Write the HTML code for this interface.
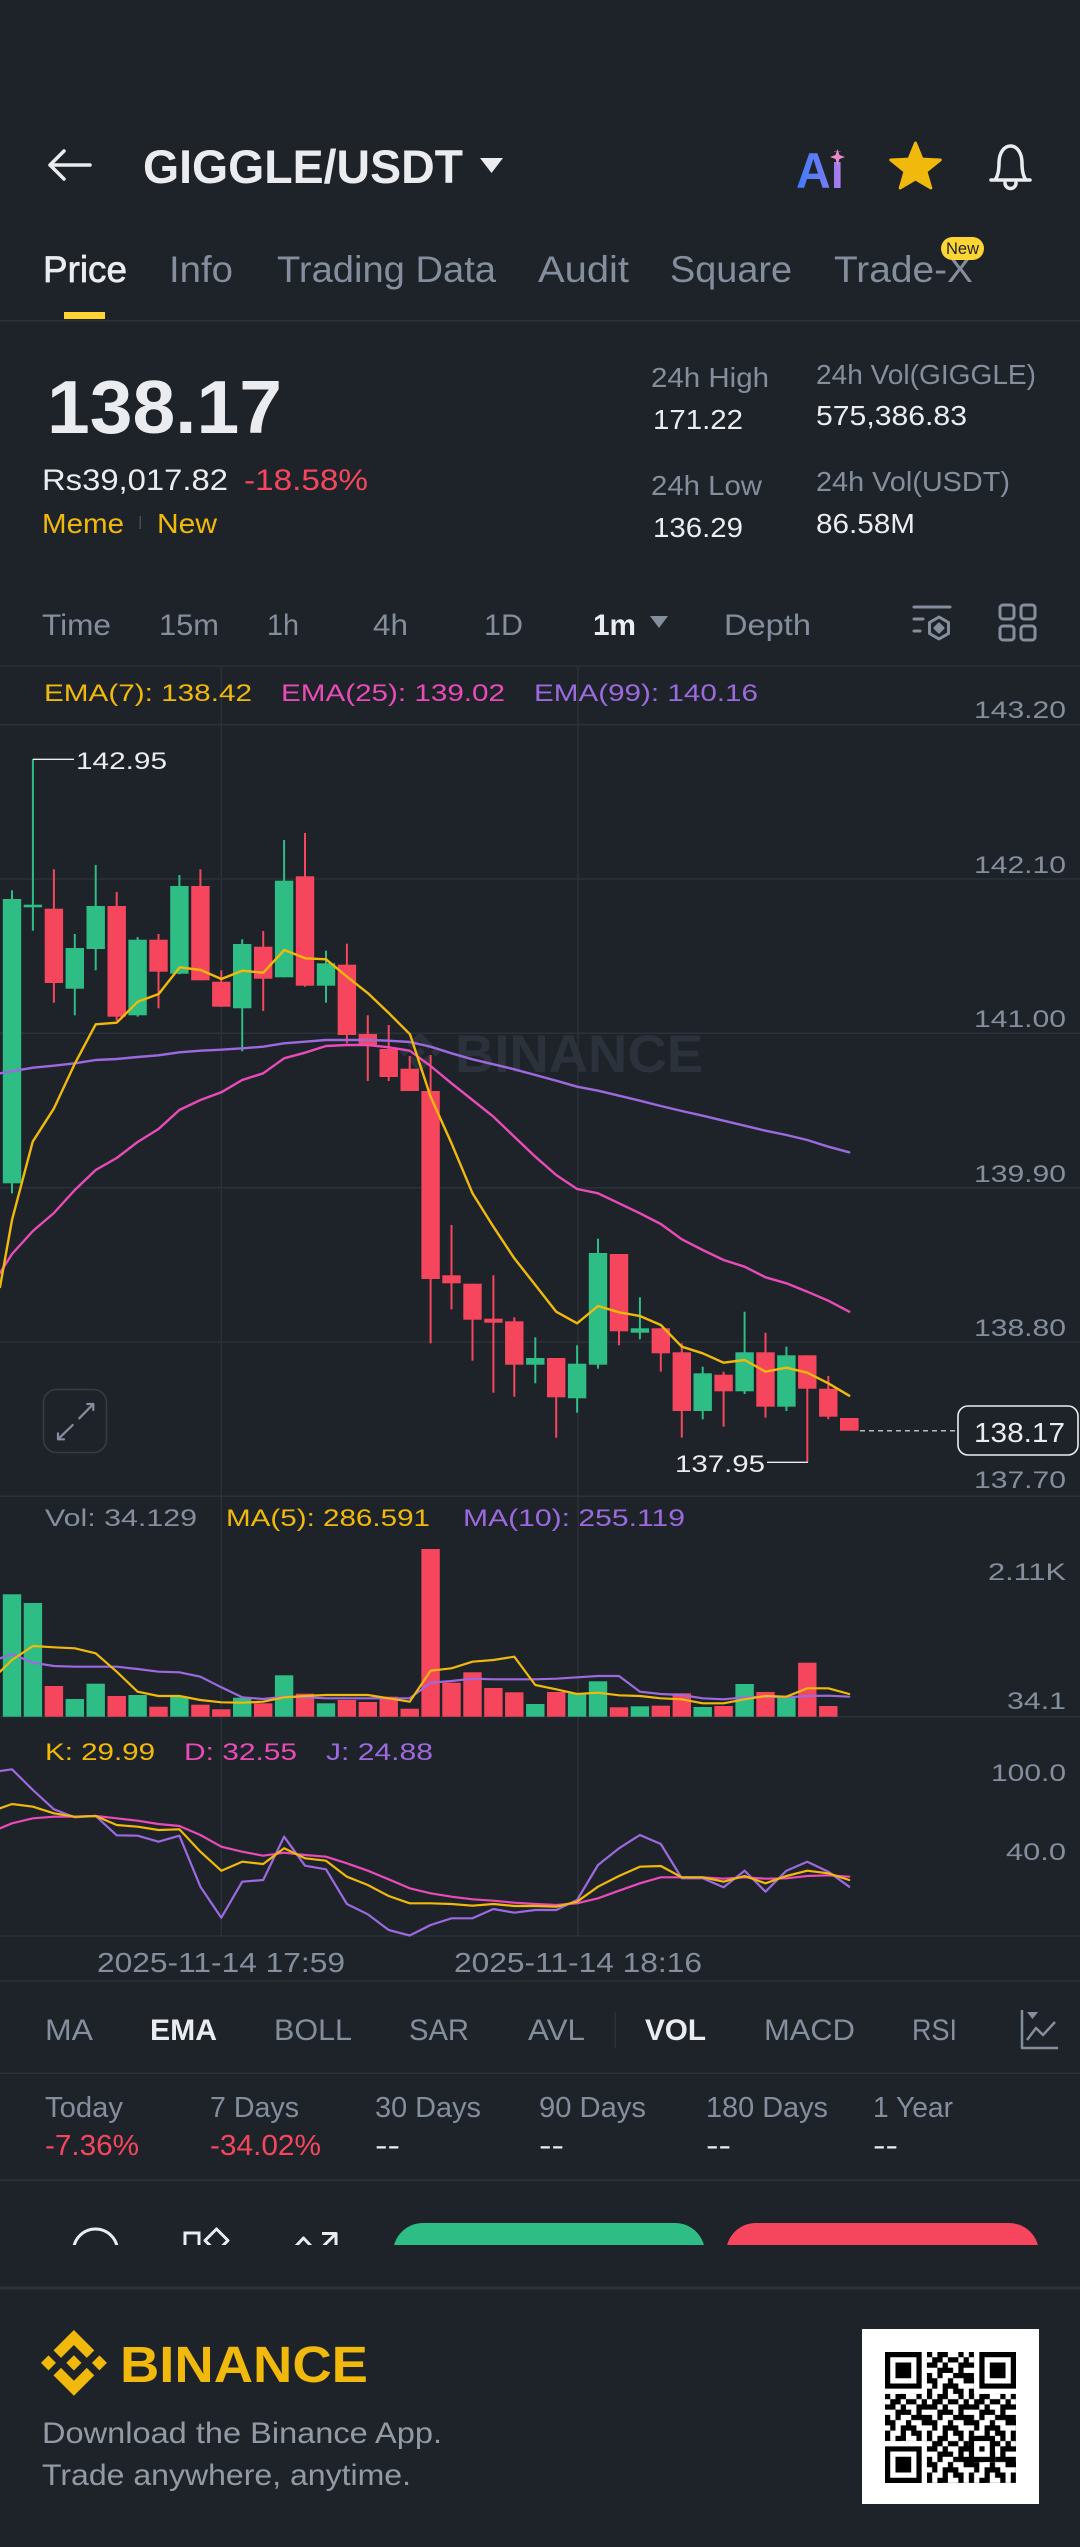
<!DOCTYPE html>
<html><head><meta charset="utf-8"><title>GIGGLE/USDT</title>
<style>
html,body{margin:0;padding:0;background:#1E2329;}
svg{display:block;}
.g{fill:#848E9C}.w{fill:#EAECEF}.r{fill:#F6465D}.y{fill:#F0B90B}.pk{fill:#E94BB8}.pu{fill:#9C6ADE}
</style></head>
<body>
<svg xmlns="http://www.w3.org/2000/svg" width="1080" height="2547" viewBox="0 0 1080 2547" font-family="'Liberation Sans', Arial, sans-serif">
<defs>
<linearGradient id="aig" x1="0" y1="0" x2="1" y2="0">
<stop offset="0" stop-color="#3F7BFA"/><stop offset="0.6" stop-color="#6E7CF5"/><stop offset="1" stop-color="#C07DEB"/>
</linearGradient>
<clipPath id="actclip"><rect x="0" y="2180" width="1080" height="65"/></clipPath>
<pattern id="qrp" width="8" height="8" patternUnits="userSpaceOnUse">
<path fill="#000" d="M0 0h1v1h-1z M2 0h2v1h-2z M6 0h1v1h-1z M1 1h2v1h-2z M4 1h2v1h-2z M7 1h1v1h-1z M0 2h2v1h-2z M3 2h1v1h-1z M6 2h2v1h-2z M2 3h3v1h-3z M6 3h1v1h-1z M0 4h1v1h-1z M2 4h1v1h-1z M5 4h3v1h-3z M0 5h2v1h-2z M4 5h1v1h-1z M7 5h1v1h-1z M1 6h1v1h-1z M3 6h3v1h-3z M0 7h1v1h-1z M3 7h1v1h-1z M5 7h2v1h-2z"/>
</pattern>
<path id="bnlogo" d="M38.171 53.203L62.759 28.616l24.601 24.601 14.307-14.307L62.759 0 23.864 38.896z M0 62.759l14.307-14.307 14.307 14.307-14.307 14.307z M38.171 72.315l24.588 24.587 24.6-24.6 14.315 14.299-.007.008-38.908 38.908-38.895-38.895-.02-.02z M97.21 62.766l14.307-14.307 14.306 14.307-14.306 14.307z M77.271 62.759h.006L62.759 48.241 52.03 58.97l-1.233 1.234-2.541 2.541-.02.02.02.021 14.503 14.503 14.518-14.518.007-.008-.013-.004z"/>
</defs>

<rect x="0" y="0" width="1080" height="2547" fill="#1E2329"/>

<!-- ===== Header ===== -->
<path d="M50 165H90 M64 151L50 165L64 179" stroke="#EAECEF" stroke-width="3.5" fill="none" stroke-linecap="round" stroke-linejoin="round"/>
<text x="143" y="183" font-size="47" font-weight="bold" class="w" textLength="320" lengthAdjust="spacingAndGlyphs">GIGGLE/USDT</text>
<path d="M480 158H503L491.5 173Z" fill="#EAECEF"/>
<text x="796" y="188" font-size="50" font-weight="bold" fill="url(#aig)" textLength="48" lengthAdjust="spacingAndGlyphs">Ai</text>
<rect x="833" y="152" width="10" height="10" fill="#1E2329"/>
<path d="M837.5 149 L839.5 155 L845 157 L839.5 159 L837.5 165 L835.5 159 L830 157 L835.5 155 Z" fill="#E98BC6"/>
<polygon points="915.5,143 921.97,159.1 940.2,160 925.96,171.4 930.8,188 915.5,179 900.2,188 905,171.4 890.8,160 909,159.1" fill="#F0B90B" stroke="#F0B90B" stroke-width="3" stroke-linejoin="round"/>
<path d="M995 180 C998 176 999 170 999 163 C999 153 1004 146 1010.5 146 C1017 146 1022 153 1022 163 C1022 170 1023 176 1026 180 Z M991 180 H1030 M1005 183 A5.5 5.5 0 0 0 1016 183" stroke="#EAECEF" stroke-width="3.5" fill="none" stroke-linecap="round" stroke-linejoin="round"/>

<!-- Tabs -->
<text x="43" y="282" font-size="37" class="w" stroke="#EAECEF" stroke-width="0.7" textLength="84" lengthAdjust="spacingAndGlyphs">Price</text>
<text x="169" y="282" font-size="37" class="g" textLength="64" lengthAdjust="spacingAndGlyphs">Info</text>
<text x="277" y="282" font-size="37" class="g" textLength="219" lengthAdjust="spacingAndGlyphs">Trading Data</text>
<text x="538" y="282" font-size="37" class="g" textLength="91" lengthAdjust="spacingAndGlyphs">Audit</text>
<text x="670" y="282" font-size="37" class="g" textLength="122" lengthAdjust="spacingAndGlyphs">Square</text>
<text x="834" y="282" font-size="37" class="g" textLength="139" lengthAdjust="spacingAndGlyphs">Trade-X</text>
<rect x="941" y="237" width="43" height="23" rx="11.5" fill="#FCD535"/>
<text x="962.5" y="254" font-size="17" fill="#1E2329" text-anchor="middle" textLength="33" lengthAdjust="spacingAndGlyphs">New</text>
<rect x="64" y="312" width="41" height="7" fill="#FCD535"/>
<rect x="0" y="320" width="1080" height="1.5" fill="#2B3139"/>

<!-- Price block -->
<text x="47" y="433" font-size="75" font-weight="bold" class="w" textLength="235" lengthAdjust="spacingAndGlyphs">138.17</text>
<text x="42" y="490" font-size="30" class="w" textLength="186" lengthAdjust="spacingAndGlyphs">Rs39,017.82</text>
<text x="244" y="490" font-size="30" class="r" textLength="124" lengthAdjust="spacingAndGlyphs">-18.58%</text>
<text x="42" y="533" font-size="27.5" class="y" textLength="82" lengthAdjust="spacingAndGlyphs">Meme</text>
<rect x="139.5" y="516" width="1.5" height="13" fill="#474D57"/>
<text x="157" y="533" font-size="27.5" class="y" textLength="60" lengthAdjust="spacingAndGlyphs">New</text>

<text x="651" y="387" font-size="27.5" class="g" textLength="118" lengthAdjust="spacingAndGlyphs">24h High</text>
<text x="653" y="429" font-size="27.5" class="w" textLength="90" lengthAdjust="spacingAndGlyphs">171.22</text>
<text x="651" y="495" font-size="27.5" class="g" textLength="111" lengthAdjust="spacingAndGlyphs">24h Low</text>
<text x="653" y="537" font-size="27.5" class="w" textLength="90" lengthAdjust="spacingAndGlyphs">136.29</text>
<text x="816" y="384" font-size="27.5" class="g" textLength="220" lengthAdjust="spacingAndGlyphs">24h Vol(GIGGLE)</text>
<text x="816" y="425" font-size="27.5" class="w" textLength="151" lengthAdjust="spacingAndGlyphs">575,386.83</text>
<text x="816" y="491" font-size="27.5" class="g" textLength="194" lengthAdjust="spacingAndGlyphs">24h Vol(USDT)</text>
<text x="816" y="533" font-size="27.5" class="w" textLength="99" lengthAdjust="spacingAndGlyphs">86.58M</text>

<!-- Interval row -->
<text x="42" y="635" font-size="30" class="g" textLength="69" lengthAdjust="spacingAndGlyphs">Time</text>
<text x="159" y="635" font-size="30" class="g" textLength="60" lengthAdjust="spacingAndGlyphs">15m</text>
<text x="267" y="635" font-size="30" class="g" textLength="32" lengthAdjust="spacingAndGlyphs">1h</text>
<text x="373" y="635" font-size="30" class="g" textLength="35" lengthAdjust="spacingAndGlyphs">4h</text>
<text x="484" y="635" font-size="30" class="g" textLength="39" lengthAdjust="spacingAndGlyphs">1D</text>
<text x="593" y="635" font-size="30" font-weight="bold" class="w" textLength="43" lengthAdjust="spacingAndGlyphs">1m</text>
<path d="M650 616H668L659 628Z" fill="#848E9C"/>
<text x="724" y="635" font-size="30" class="g" textLength="87" lengthAdjust="spacingAndGlyphs">Depth</text>
<g stroke="#848E9C" stroke-width="3" fill="none" stroke-linecap="round" stroke-linejoin="round">
<path d="M914 607H950 M914 619H923 M914 631H920"/>
<polygon points="939,617 948.5,622.5 948.5,633.5 939,639 929.5,633.5 929.5,622.5"/>
<path d="M939 624 L943 628 L939 632 L935 628 Z" fill="#848E9C"/>
<rect x="1000" y="605" width="14" height="14" rx="3"/>
<rect x="1021" y="605" width="14" height="14" rx="3"/>
<rect x="1000" y="626" width="14" height="14" rx="3"/>
<rect x="1021" y="626" width="14" height="14" rx="3"/>
</g>

<!-- ===== Chart grid ===== -->
<g stroke="#2B3139" stroke-width="1.5">
<line x1="0" y1="666" x2="1080" y2="666"/>
<line x1="0" y1="724.7" x2="1080" y2="724.7"/>
<line x1="0" y1="879" x2="1080" y2="879"/>
<line x1="0" y1="1033.3" x2="1080" y2="1033.3"/>
<line x1="0" y1="1187.7" x2="1080" y2="1187.7"/>
<line x1="0" y1="1342" x2="1080" y2="1342"/>
<line x1="0" y1="1496.3" x2="1080" y2="1496.3"/>
<line x1="0" y1="1716.7" x2="1080" y2="1716.7"/>
<line x1="0" y1="1936" x2="1080" y2="1936"/>
<line x1="0" y1="1981" x2="1080" y2="1981"/>
<line x1="221.3" y1="666" x2="221.3" y2="1936"/>
<line x1="578" y1="666" x2="578" y2="1936"/>
</g>

<!-- watermark -->
<use href="#bnlogo" transform="translate(400 1032) scale(0.32)" fill="#2C323B"/>
<text x="455" y="1072" font-size="53" font-weight="bold" fill="#2C323B" textLength="248" lengthAdjust="spacingAndGlyphs">BINANCE</text>

<!-- EMA labels -->
<text x="44" y="701" font-size="24.5" class="y" textLength="208" lengthAdjust="spacingAndGlyphs">EMA(7): 138.42</text>
<text x="281" y="701" font-size="24.5" class="pk" textLength="224" lengthAdjust="spacingAndGlyphs">EMA(25): 139.02</text>
<text x="534" y="701" font-size="24.5" class="pu" textLength="224" lengthAdjust="spacingAndGlyphs">EMA(99): 140.16</text>

<!-- price axis -->
<g font-size="24.5" class="g" text-anchor="end">
<text x="1066" y="718" textLength="92" lengthAdjust="spacingAndGlyphs">143.20</text>
<text x="1066" y="873" textLength="92" lengthAdjust="spacingAndGlyphs">142.10</text>
<text x="1066" y="1027" textLength="92" lengthAdjust="spacingAndGlyphs">141.00</text>
<text x="1066" y="1182" textLength="92" lengthAdjust="spacingAndGlyphs">139.90</text>
<text x="1066" y="1336" textLength="92" lengthAdjust="spacingAndGlyphs">138.80</text>
<text x="1066" y="1488" textLength="92" lengthAdjust="spacingAndGlyphs">137.70</text>
</g>

<!-- Candles green -->
<g fill="#2EBD85">
<rect x="11" y="890.3" width="2" height="303"/><rect x="2.8" y="899" width="18.4" height="284.3"/>
<rect x="31.9" y="759" width="2" height="171.7"/><rect x="23.7" y="904.7" width="18.4" height="2.6"/>
<rect x="73.8" y="934" width="2" height="81.3"/><rect x="65.6" y="948" width="18.4" height="40.7"/>
<rect x="94.7" y="865" width="2" height="105.3"/><rect x="86.5" y="906" width="18.4" height="43"/>
<rect x="136.6" y="937" width="2" height="79.7"/><rect x="128.4" y="939.7" width="18.4" height="75.6"/>
<rect x="178.4" y="875" width="2" height="99.3"/><rect x="170.2" y="886" width="18.4" height="87.7"/>
<rect x="241.2" y="939.3" width="2" height="112"/><rect x="233" y="944" width="18.4" height="64.3"/>
<rect x="283.1" y="840" width="2" height="137.3"/><rect x="274.9" y="880.7" width="18.4" height="96.6"/>
<rect x="325" y="950.7" width="2" height="52"/><rect x="316.8" y="963.3" width="18.4" height="22.4"/>
<rect x="534.3" y="1337.3" width="2" height="46"/><rect x="526.1" y="1358" width="18.4" height="6.7"/>
<rect x="576.1" y="1345.3" width="2" height="67.4"/><rect x="567.9" y="1363.7" width="18.4" height="34.6"/>
<rect x="597" y="1238.7" width="2" height="130"/><rect x="588.8" y="1253" width="18.4" height="111.7"/>
<rect x="638.9" y="1297.3" width="2" height="42"/><rect x="630.7" y="1328.3" width="18.4" height="4.4"/>
<rect x="701.7" y="1366.7" width="2" height="52.6"/><rect x="693.5" y="1373.3" width="18.4" height="37.7"/>
<rect x="743.6" y="1311.7" width="2" height="82.3"/><rect x="735.4" y="1352.3" width="18.4" height="39"/>
<rect x="785.4" y="1346.7" width="2" height="64.3"/><rect x="777.2" y="1355.3" width="18.4" height="51.4"/>
</g>
<!-- Candles red -->
<g fill="#F6465D">
<rect x="52.9" y="869.3" width="2" height="133.4"/><rect x="44.7" y="908.7" width="18.4" height="74.3"/>
<rect x="115.7" y="892" width="2" height="128.7"/><rect x="107.5" y="906" width="18.4" height="110.7"/>
<rect x="157.5" y="934" width="2" height="74.3"/><rect x="149.3" y="939.7" width="18.4" height="32"/>
<rect x="199.4" y="869.3" width="2" height="111"/><rect x="191.2" y="886" width="18.4" height="94.3"/>
<rect x="220.3" y="970.3" width="2" height="36.4"/><rect x="212.1" y="981.7" width="18.4" height="25"/>
<rect x="262.2" y="931" width="2" height="80"/><rect x="254" y="946.7" width="18.4" height="32"/>
<rect x="304" y="833" width="2" height="153.7"/><rect x="295.8" y="876.3" width="18.4" height="109.4"/>
<rect x="345.9" y="943.7" width="2" height="99.6"/><rect x="337.7" y="964.7" width="18.4" height="70.3"/>
<rect x="366.8" y="1015.3" width="2" height="65.7"/><rect x="358.6" y="1034" width="18.4" height="11"/>
<rect x="387.7" y="1025" width="2" height="56"/><rect x="379.5" y="1049" width="18.4" height="28"/>
<rect x="408.7" y="1056" width="2" height="35"/><rect x="400.5" y="1068.7" width="18.4" height="22.3"/>
<rect x="429.6" y="1055" width="2" height="288.3"/><rect x="421.4" y="1091" width="18.4" height="188"/>
<rect x="450.5" y="1225" width="2" height="84.3"/><rect x="442.3" y="1275.3" width="18.4" height="8"/>
<rect x="471.5" y="1283.7" width="2" height="77"/><rect x="463.3" y="1283.7" width="18.4" height="36"/>
<rect x="492.4" y="1275.3" width="2" height="117.4"/><rect x="484.2" y="1318.7" width="18.4" height="4"/>
<rect x="513.3" y="1317.3" width="2" height="79.4"/><rect x="505.1" y="1321.3" width="18.4" height="43.4"/>
<rect x="555.2" y="1358" width="2" height="79.7"/><rect x="547" y="1358" width="18.4" height="39.3"/>
<rect x="618" y="1254" width="2" height="91.3"/><rect x="609.8" y="1254" width="18.4" height="77.3"/>
<rect x="659.8" y="1328.3" width="2" height="43.4"/><rect x="651.6" y="1328.3" width="18.4" height="25"/>
<rect x="680.8" y="1343.3" width="2" height="94.4"/><rect x="672.6" y="1352.3" width="18.4" height="58.7"/>
<rect x="722.6" y="1371.7" width="2" height="55"/><rect x="714.4" y="1374.7" width="18.4" height="16.6"/>
<rect x="764.5" y="1332.7" width="2" height="85"/><rect x="756.3" y="1352.3" width="18.4" height="54.4"/>
<rect x="806.3" y="1355.3" width="2" height="107"/><rect x="798.1" y="1355.3" width="18.4" height="33.4"/>
<rect x="827.3" y="1376" width="2" height="43.3"/><rect x="819.1" y="1388.7" width="18.4" height="28"/>
<rect x="840" y="1418" width="18.6" height="12.7"/>
</g>

<!-- EMA lines -->
<g fill="none" stroke-width="2.4" stroke-linejoin="round" stroke-linecap="round">
<polyline stroke="#9C6ADE" points="0,1073.3 32.9,1067.7 53.9,1065.7 74.8,1063.3 95.7,1060 116.7,1059 137.6,1057 158.5,1055.3 179.4,1052.3 200.4,1050.7 221.3,1049.7 242.2,1048.3 263.2,1046.7 284.1,1043.3 305,1041.7 326,1040 346.9,1040 367.8,1040 388.7,1040.7 409.7,1042 430.6,1046.7 451.5,1053.3 472.5,1059.3 493.4,1064.3 514.3,1069.3 535.3,1075 556.2,1080.7 577.1,1086.7 598,1090.7 619,1095.7 639.9,1100.7 660.8,1106 681.8,1111 702.7,1115.7 723.6,1120.7 744.6,1125.7 765.5,1130.7 786.4,1135 807.3,1140 828.3,1146.7 849.2,1152.3"/>
<polyline stroke="#E94BB8" points="0,1273 12,1254 32.9,1231 53.9,1213 74.8,1190 95.7,1170 116.7,1158 137.6,1142 158.5,1129 179.4,1110 200.4,1100 221.3,1092.3 242.2,1080 263.2,1073.3 284.1,1058.3 305,1052.7 326,1046 346.9,1045 367.8,1045 388.7,1047.3 409.7,1050.7 430.6,1066 451.5,1083.3 472.5,1100 493.4,1116.7 514.3,1136.7 535.3,1156.7 556.2,1175 577.1,1189 598,1193.3 619,1203.3 639.9,1213.3 660.8,1224 681.8,1239.3 702.7,1250 723.6,1260 744.6,1266.7 765.5,1277.3 786.4,1283.3 807.3,1291.7 828.3,1300.7 849.2,1311.7"/>
<polyline stroke="#F0B90B" points="0,1287 12,1220 32.7,1141.7 54,1108.3 75,1063.3 95.7,1024.3 116.7,1022.7 137.7,1001.7 158.7,994 179.7,967.3 200.7,970 221.3,979 242.3,970.7 263.3,972.7 284.3,950 305.3,958.3 326,959.3 347,976.7 368,993.3 389,1013.3 410,1034.3 430.6,1096.7 451.5,1143.3 472.5,1193.3 493.4,1226.7 514.3,1258.3 535.3,1285 556.2,1311.7 577.1,1323.3 598,1306 619,1312.3 639.9,1316 660.8,1325 681.8,1346.7 702.7,1353.3 723.6,1362.7 744.6,1360 765.5,1371.7 786.4,1367.7 807.3,1372.7 828.3,1383.3 849.2,1395.7"/>
</g>

<!-- high / low markers -->
<line x1="33" y1="759.3" x2="74" y2="759.3" stroke="#EAECEF" stroke-width="1.3"/>
<text x="76" y="769" font-size="24.5" class="w" textLength="91" lengthAdjust="spacingAndGlyphs">142.95</text>
<line x1="767" y1="1462.3" x2="808" y2="1462.3" stroke="#EAECEF" stroke-width="1.3"/>
<text x="675" y="1472" font-size="24.5" class="w" textLength="90" lengthAdjust="spacingAndGlyphs">137.95</text>

<!-- current price -->
<line x1="860" y1="1430.7" x2="955" y2="1430.7" stroke="#B7BDC6" stroke-width="1.5" stroke-dasharray="5 4"/>
<rect x="958" y="1406" width="120" height="49" rx="10" fill="#1E2329" stroke="#EAECEF" stroke-width="1.6"/>
<text x="974" y="1442" font-size="28" class="w" textLength="91" lengthAdjust="spacingAndGlyphs">138.17</text>

<!-- expand icon -->
<rect x="43.5" y="1389.5" width="63" height="63" rx="13" fill="none" stroke="#363C45" stroke-width="1.6"/>
<path d="M79.3 1418.3 L93.3 1404 M87.3 1404 H93.3 V1410 M72.7 1425 L58 1439.3 M58 1433.3 V1439.3 H64" stroke="#848E9C" stroke-width="2.2" fill="none" stroke-linecap="round" stroke-linejoin="round"/>

<!-- ===== Volume ===== -->
<text x="45" y="1526" font-size="24.5" class="g" textLength="152" lengthAdjust="spacingAndGlyphs">Vol: 34.129</text>
<text x="226" y="1526" font-size="24.5" class="y" textLength="204" lengthAdjust="spacingAndGlyphs">MA(5): 286.591</text>
<text x="463" y="1526" font-size="24.5" class="pu" textLength="222" lengthAdjust="spacingAndGlyphs">MA(10): 255.119</text>
<text x="1066" y="1580" font-size="24.5" class="g" text-anchor="end" textLength="78" lengthAdjust="spacingAndGlyphs">2.11K</text>
<text x="1066" y="1709" font-size="24.5" class="g" text-anchor="end" textLength="59" lengthAdjust="spacingAndGlyphs">34.1</text>

<g fill="#2EBD85">
<rect x="2.8" y="1594.3" width="18.4" height="122.4"/>
<rect x="23.7" y="1603" width="18.4" height="113.7"/>
<rect x="65.6" y="1699" width="18.4" height="17.7"/>
<rect x="86.5" y="1683.7" width="18.4" height="33"/>
<rect x="128.4" y="1695" width="18.4" height="21.7"/>
<rect x="170.2" y="1697" width="18.4" height="19.7"/>
<rect x="233" y="1697.7" width="18.4" height="19"/>
<rect x="274.9" y="1675.3" width="18.4" height="41.4"/>
<rect x="316.8" y="1703.3" width="18.4" height="13.4"/>
<rect x="526.1" y="1704" width="18.4" height="12.7"/>
<rect x="567.9" y="1693.3" width="18.4" height="23.4"/>
<rect x="588.8" y="1681.3" width="18.4" height="35.4"/>
<rect x="630.7" y="1706.3" width="18.4" height="10.4"/>
<rect x="693.5" y="1707" width="18.4" height="9.7"/>
<rect x="735.4" y="1684" width="18.4" height="32.7"/>
<rect x="777.2" y="1697" width="18.4" height="19.7"/>
</g>
<g fill="#F6465D">
<rect x="44.7" y="1686" width="18.4" height="30.7"/>
<rect x="107.5" y="1696" width="18.4" height="20.7"/>
<rect x="149.3" y="1706.7" width="18.4" height="10"/>
<rect x="191.2" y="1704.7" width="18.4" height="12"/>
<rect x="212.1" y="1709.3" width="18.4" height="7.4"/>
<rect x="254" y="1703.3" width="18.4" height="13.4"/>
<rect x="295.8" y="1693.7" width="18.4" height="23"/>
<rect x="337.7" y="1700" width="18.4" height="16.7"/>
<rect x="358.6" y="1702" width="18.4" height="14.7"/>
<rect x="379.5" y="1696.7" width="18.4" height="20"/>
<rect x="400.5" y="1708.7" width="18.4" height="8"/>
<rect x="421.4" y="1549" width="18.4" height="167.7"/>
<rect x="442.3" y="1682.7" width="18.4" height="34"/>
<rect x="463.3" y="1672.3" width="18.4" height="44.4"/>
<rect x="484.2" y="1688" width="18.4" height="28.7"/>
<rect x="505.1" y="1692.3" width="18.4" height="24.4"/>
<rect x="547" y="1692" width="18.4" height="24.7"/>
<rect x="609.8" y="1707.3" width="18.4" height="9.4"/>
<rect x="651.6" y="1705.7" width="18.4" height="11"/>
<rect x="672.6" y="1693.3" width="18.4" height="23.4"/>
<rect x="714.4" y="1706" width="18.4" height="10.7"/>
<rect x="756.3" y="1692" width="18.4" height="24.7"/>
<rect x="798.1" y="1662.7" width="18.4" height="54"/>
<rect x="819.1" y="1706" width="18.4" height="10.7"/>
</g>
<g fill="none" stroke-width="2.2" stroke-linejoin="round" stroke-linecap="round">
<polyline stroke="#9C6ADE" points="0,1658.3 12,1654 32.9,1662.7 53.9,1666 74.8,1666.7 95.7,1666.7 116.7,1666.7 137.6,1669 158.5,1671.7 179.4,1672.3 200.4,1676.7 221.3,1687.3 242.2,1697.3 263.2,1699 284.1,1696.7 305,1697.3 326,1698.3 346.9,1698.3 367.8,1698.3 388.7,1698.3 409.7,1698.3 430.6,1682.7 451.5,1681 472.5,1678.7 493.4,1679.3 514.3,1679.3 535.3,1679.3 556.2,1678.7 577.1,1677.3 598,1676 619,1676 639.9,1691.7 660.8,1694 681.8,1695 702.7,1698.3 723.6,1699.3 744.6,1697.3 765.5,1696.7 786.4,1697.3 807.3,1696 828.3,1695.7 849.2,1696.7"/>
<polyline stroke="#F0B90B" points="0,1671.7 12,1660 32.9,1646 53.9,1647.3 74.8,1648.3 95.7,1653.3 116.7,1671.7 137.6,1691.7 158.5,1696 179.4,1696 200.4,1700 221.3,1702.3 242.2,1702.7 263.2,1701.7 284.1,1697.3 305,1696 326,1695 346.9,1695 367.8,1695 388.7,1698.3 409.7,1701.7 430.6,1670.7 451.5,1668.3 472.5,1661.7 493.4,1660 514.3,1656.7 535.3,1685 556.2,1689.3 577.1,1694 598,1692.7 619,1695.3 639.9,1696 660.8,1698.3 681.8,1699.3 702.7,1703.3 723.6,1703.3 744.6,1699.3 765.5,1696 786.4,1696.7 807.3,1688.3 828.3,1688.3 849.2,1694"/>
</g>

<!-- ===== KDJ ===== -->
<text x="45" y="1760" font-size="24.5" class="y" textLength="110" lengthAdjust="spacingAndGlyphs">K: 29.99</text>
<text x="184" y="1760" font-size="24.5" class="pk" textLength="113" lengthAdjust="spacingAndGlyphs">D: 32.55</text>
<text x="326" y="1760" font-size="24.5" class="pu" textLength="107" lengthAdjust="spacingAndGlyphs">J: 24.88</text>
<text x="1066" y="1781" font-size="24.5" class="g" text-anchor="end" textLength="75" lengthAdjust="spacingAndGlyphs">100.0</text>
<text x="1066" y="1860" font-size="24.5" class="g" text-anchor="end" textLength="60" lengthAdjust="spacingAndGlyphs">40.0</text>
<g fill="none" stroke-width="2.2" stroke-linejoin="round" stroke-linecap="round">
<polyline stroke="#9C6ADE" points="0,1771 12,1769.3 32.9,1790 53.9,1809.3 74.8,1817.3 95.7,1816 116.7,1835.3 137.6,1835.7 158.5,1841.7 179.4,1835.7 200.4,1886.7 221.3,1917.7 242.2,1881.7 263.2,1880 284.1,1836.7 305,1865.7 326,1869.3 346.9,1904 367.8,1914.3 388.7,1930 409.7,1935.5 430.6,1925 451.5,1918.3 472.5,1918.3 493.4,1909 514.3,1912.7 535.3,1910 556.2,1910 577.1,1900 598,1865 619,1848.3 639.9,1835 660.8,1844 681.8,1878.3 702.7,1878.3 723.6,1887.3 744.6,1870.7 765.5,1891.7 786.4,1870.7 807.3,1861.7 828.3,1871.7 849.2,1886.7"/>
<polyline stroke="#E94BB8" points="0,1828.3 12,1823.3 32.9,1818.3 53.9,1816.7 74.8,1816.7 95.7,1816 116.7,1818.3 137.6,1820.7 158.5,1824 179.4,1826 200.4,1835 221.3,1846.7 242.2,1851.7 263.2,1855.7 284.1,1852.7 305,1855 326,1856.7 346.9,1863.3 367.8,1870.7 388.7,1879.3 409.7,1888.3 430.6,1893.3 451.5,1896.7 472.5,1899.3 493.4,1900.7 514.3,1902.7 535.3,1904 556.2,1905 577.1,1903.3 598,1898.3 619,1890.7 639.9,1883.3 660.8,1877.3 681.8,1877.3 702.7,1877.3 723.6,1878.7 744.6,1877.3 765.5,1878.7 786.4,1878.3 807.3,1876 828.3,1875.3 849.2,1876.7"/>
<polyline stroke="#F0B90B" points="0,1808.3 12,1804 32.9,1806.7 53.9,1813.3 74.8,1816.7 95.7,1816 116.7,1825 137.6,1826.7 158.5,1830 179.4,1829.3 200.4,1851.7 221.3,1870.7 242.2,1861.7 263.2,1864 284.1,1848.3 305,1858.3 326,1860.7 346.9,1876.7 367.8,1885 388.7,1896 409.7,1903.3 430.6,1903.3 451.5,1904 472.5,1905.7 493.4,1904 514.3,1906 535.3,1906 556.2,1906.7 577.1,1901.7 598,1886.7 619,1876 639.9,1866.7 660.8,1866 681.8,1877.3 702.7,1877.3 723.6,1881.7 744.6,1876 765.5,1883.3 786.4,1876 807.3,1870.7 828.3,1873.3 849.2,1880"/>
</g>

<!-- dates -->
<text x="221" y="1972" font-size="28" class="g" text-anchor="middle" textLength="248" lengthAdjust="spacingAndGlyphs">2025-11-14 17:59</text>
<text x="578" y="1972" font-size="28" class="g" text-anchor="middle" textLength="248" lengthAdjust="spacingAndGlyphs">2025-11-14 18:16</text>

<!-- ===== Indicator tabs ===== -->
<g font-size="30">
<text x="45" y="2040" class="g" textLength="48" lengthAdjust="spacingAndGlyphs">MA</text>
<text x="150" y="2040" class="w" font-weight="bold" textLength="67" lengthAdjust="spacingAndGlyphs">EMA</text>
<text x="274" y="2040" class="g" textLength="78" lengthAdjust="spacingAndGlyphs">BOLL</text>
<text x="409" y="2040" class="g" textLength="60" lengthAdjust="spacingAndGlyphs">SAR</text>
<text x="528" y="2040" class="g" textLength="57" lengthAdjust="spacingAndGlyphs">AVL</text>
<text x="645" y="2040" class="w" font-weight="bold" textLength="61" lengthAdjust="spacingAndGlyphs">VOL</text>
<text x="764" y="2040" class="g" textLength="91" lengthAdjust="spacingAndGlyphs">MACD</text>
<text x="912" y="2040" class="g" textLength="45" lengthAdjust="spacingAndGlyphs">RSI</text>
</g>
<rect x="614.5" y="2012" width="1.5" height="36" fill="#2B3139"/>
<path d="M1022 2010 V2048 H1058 M1027 2040 L1036 2028 L1043 2035 L1055 2022" stroke="#848E9C" stroke-width="2.5" fill="none" stroke-linejoin="round"/>
<path d="M1027 2012 H1038 L1032.5 2019 Z" fill="#848E9C"/>
<rect x="0" y="2072.5" width="1080" height="1.5" fill="#2B3139"/>

<!-- performance -->
<g font-size="28.5">
<text x="45" y="2117" class="g" textLength="78" lengthAdjust="spacingAndGlyphs">Today</text>
<text x="45" y="2155" class="r" textLength="94" lengthAdjust="spacingAndGlyphs">-7.36%</text>
<text x="210" y="2117" class="g" textLength="89" lengthAdjust="spacingAndGlyphs">7 Days</text>
<text x="210" y="2155" class="r" textLength="111" lengthAdjust="spacingAndGlyphs">-34.02%</text>
<text x="375" y="2117" class="g" textLength="106" lengthAdjust="spacingAndGlyphs">30 Days</text>
<text x="375" y="2155" class="w" textLength="25" lengthAdjust="spacingAndGlyphs">--</text>
<text x="539" y="2117" class="g" textLength="107" lengthAdjust="spacingAndGlyphs">90 Days</text>
<text x="539" y="2155" class="w" textLength="25" lengthAdjust="spacingAndGlyphs">--</text>
<text x="706" y="2117" class="g" textLength="122" lengthAdjust="spacingAndGlyphs">180 Days</text>
<text x="706" y="2155" class="w" textLength="25" lengthAdjust="spacingAndGlyphs">--</text>
<text x="873" y="2117" class="g" textLength="80" lengthAdjust="spacingAndGlyphs">1 Year</text>
<text x="873" y="2155" class="w" textLength="25" lengthAdjust="spacingAndGlyphs">--</text>
</g>
<rect x="0" y="2179.5" width="1080" height="1.5" fill="#2B3139"/>

<!-- action bar (cut off) -->
<g clip-path="url(#actclip)">
<circle cx="95.5" cy="2251" r="22" fill="none" stroke="#EAECEF" stroke-width="3"/>
<path d="M185 2250 V2233 H199 V2250" fill="none" stroke="#EAECEF" stroke-width="3"/>
<path d="M216.5 2229 L228 2240.5 L216.5 2252 L205 2240.5 Z" fill="none" stroke="#EAECEF" stroke-width="3" stroke-linejoin="round"/>
<path d="M296 2246 L303.5 2238 L311 2246 M322 2233.5 H336 V2247 M336 2233.5 L323 2246.5" fill="none" stroke="#EAECEF" stroke-width="3" stroke-linejoin="round"/>
<rect x="393" y="2223" width="312" height="60" rx="30" fill="#2EBD85"/>
<rect x="726" y="2223" width="313" height="60" rx="30" fill="#F6465D"/>
</g>

<rect x="0" y="2286.5" width="1080" height="3" fill="#2B3139"/>

<!-- ===== Footer ===== -->
<use href="#bnlogo" transform="translate(41 2330) scale(0.524)" fill="#F0B90B"/>
<text x="120" y="2382" font-size="51" font-weight="bold" class="y" textLength="248" lengthAdjust="spacingAndGlyphs">BINANCE</text>
<text x="42" y="2443" font-size="30" fill="#929AA5" textLength="400" lengthAdjust="spacingAndGlyphs">Download the Binance App.</text>
<text x="42" y="2485" font-size="30" fill="#929AA5" textLength="369" lengthAdjust="spacingAndGlyphs">Trade anywhere, anytime.</text>

<!-- QR -->
<rect x="862" y="2329" width="177" height="175" fill="#FFFFFF"/>
<g transform="translate(885 2352) scale(5.24)">
<rect x="0" y="0" width="25" height="25" fill="url(#qrp)"/>
<rect x="0" y="0" width="8" height="8" fill="#fff"/>
<rect x="17" y="0" width="8" height="8" fill="#fff"/>
<rect x="0" y="17" width="8" height="8" fill="#fff"/>
<g fill="#000">
<path d="M0 0h7v7h-7z M1 1v5h5v-5z M2 2h3v3h-3z" fill-rule="evenodd"/>
<path d="M18 0h7v7h-7z M19 1v5h5v-5z M20 2h3v3h-3z" fill-rule="evenodd"/>
<path d="M0 18h7v7h-7z M1 19v5h5v-5z M2 20h3v3h-3z" fill-rule="evenodd"/>
</g>
<rect x="16" y="16" width="5" height="5" fill="#000"/>
<rect x="17" y="17" width="3" height="3" fill="#fff"/>
<rect x="18" y="18" width="1" height="1" fill="#000"/>
</g>
</svg>
</body></html>
